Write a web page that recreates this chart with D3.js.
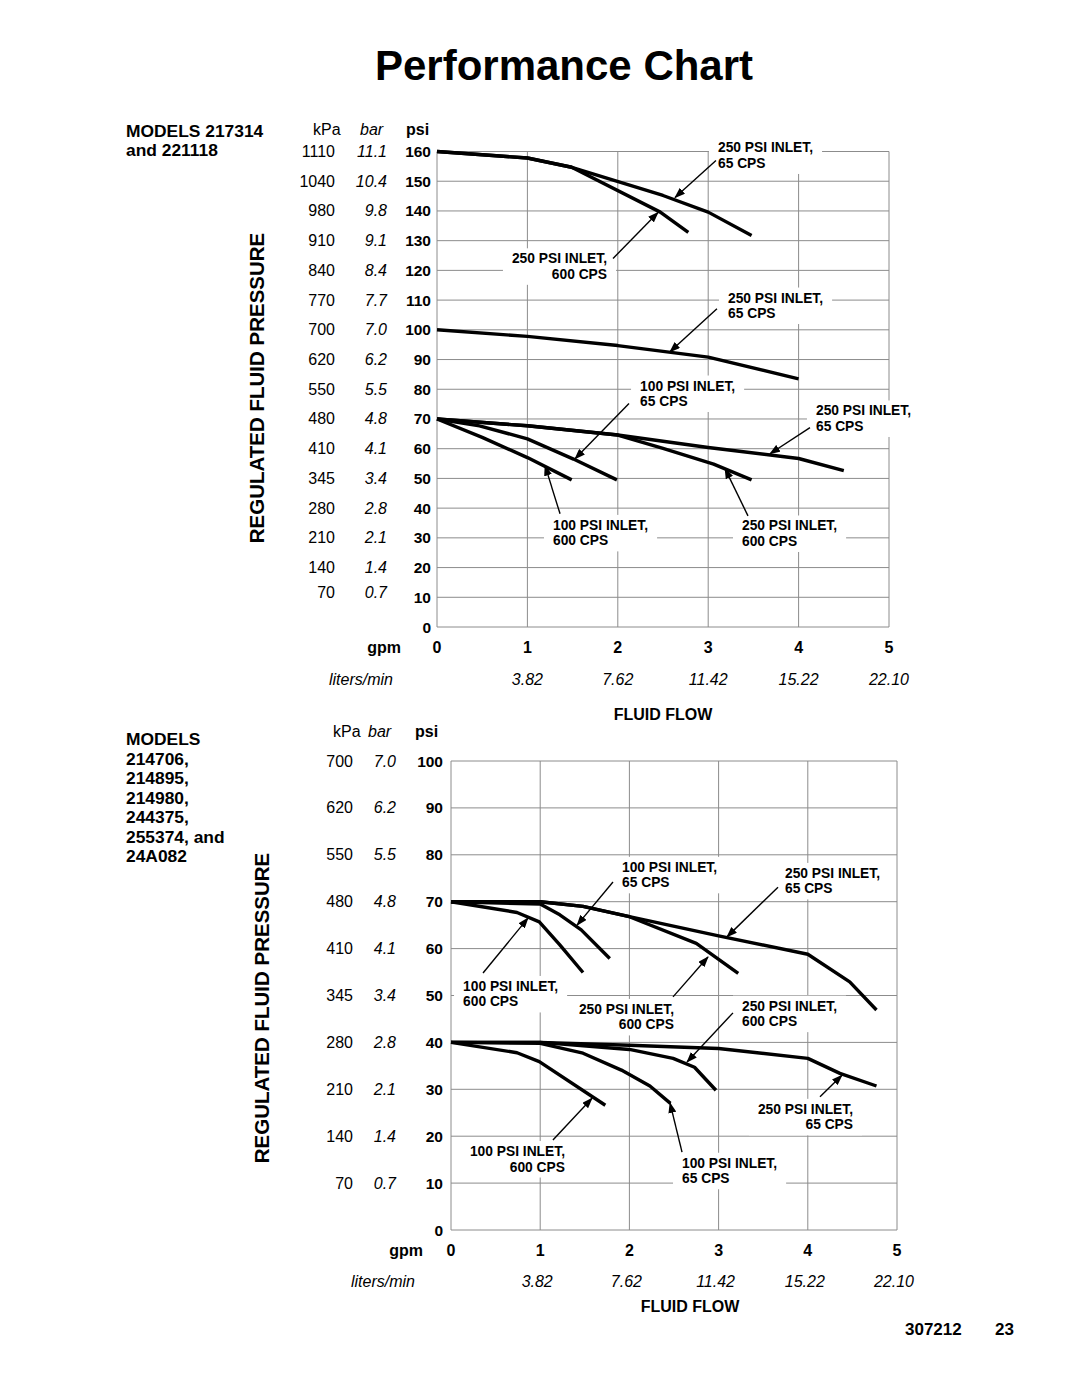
<!DOCTYPE html>
<html><head><meta charset="utf-8">
<script src="https://cdn.jsdelivr.net/npm/d3@7"></script>
<style>
body{margin:0;background:#fff}
svg{display:block}
text{font-family:"Liberation Sans",Arial,Helvetica,sans-serif;fill:#000}
</style>
</head><body>
<svg id="c" width="1080" height="1397"></svg>
<script>
// ---------- DATA ----------
const gpmTicks = [0, 1, 2, 3, 4, 5];
const litersLabels = ["", "3.82", "7.62", "11.42", "15.22", "22.10"];

const topPsi = [160,150,140,130,120,110,100,90,80,70,60,50,40,30,20,10,0];
const topKpa = ["1110","1040","980","910","840","770","700","620","550","480","410","345","280","210","140","70",""];
const topBar = ["11.1","10.4","9.8","9.1","8.4","7.7","7.0","6.2","5.5","4.8","4.1","3.4","2.8","2.1","1.4","0.7",""];

const botPsi = [100,90,80,70,60,50,40,30,20,10,0];
const botKpa = ["700","620","550","480","410","345","280","210","140","70",""];
const botBar = ["7.0","6.2","5.5","4.8","4.1","3.4","2.8","2.1","1.4","0.7",""];

const topModels = ["MODELS 217314", "and 221118"];
const botModels = ["MODELS", "214706,", "214895,", "214980,", "244375,", "255374, and", "24A082"];

// top chart series [gpm, psi]
const top_250_65_high  = [[0,160],[1,157.8],[1.49,154.7],[2.5,145.2],[3,139.6],[3.48,131.7]];
const top_250_600_high = [[0,160],[1,157.8],[1.49,154.7],[2.47,139.6],[2.78,132.8]];
const top_250_65_mid   = [[0,100],[1,97.8],[2,94.7],[3,90.8],[4,83.5]];
const top_250_65_low   = [[0,70],[1,67.7],[2,64.6],[3,60.4],[4,56.7],[4.5,52.6]];
const top_250_600_low  = [[0,70],[1,67.7],[2,64.6],[2.5,60.1],[3.06,54.8],[3.48,49.5]];
const top_100_65       = [[0,70],[0.47,67.7],[1,63.3],[1.51,56.5],[1.99,49.5]];
const top_100_600      = [[0,70],[0.5,63.8],[1,57],[1.49,49.5]];

// bottom chart series
const bot_250_65_high  = [[0,70],[1,70],[1.48,69],[2,66.8],[3,62.7],[4,58.8],[4.47,52.9],[4.77,46.9]];
const bot_250_600_high = [[0,70],[1,70],[1.48,69],[2,66.8],[2.75,61.1],[3.22,54.7]];
const bot_100_65_high  = [[0,70],[1,69.5],[1.22,67.2],[1.46,64],[1.78,57.9]];
const bot_100_600_high = [[0,70],[0.74,67.7],[0.99,65.7],[1.22,60.8],[1.48,54.9]];
const bot_250_65_low   = [[0,40],[1,40],[2,39.4],[3,38.7],[4,36.6],[4.36,33.4],[4.77,30.7]];
const bot_250_600_low  = [[0,40],[1,40],[2,38.5],[2.49,36.6],[2.73,34.7],[2.97,29.8]];
const bot_100_65_low   = [[0,40],[1,39.8],[1.48,37.7],[1.91,34.1],[2.23,30.7],[2.46,27]];
const bot_100_600_low  = [[0,40],[0.74,37.8],[0.99,35.9],[1.73,26.6]];

// annotations: label lines, label anchor (gpm, psi), arrow from/to (gpm, psi)
const topNotes = [
  {lines:["250 PSI INLET,","65 CPS"],  at:[3.108,161.3], anchor:"start", from:[3.086,157.0], to:[2.633,144.5]},
  {lines:["250 PSI INLET,","600 CPS"], at:[1.881,124.0], anchor:"end",   from:[1.947,124.0], to:[2.445,139.5]},
  {lines:["250 PSI INLET,","65 CPS"],  at:[3.219,110.8], anchor:"start", from:[3.097,107.1], to:[2.577,92.6]},
  {lines:["100 PSI INLET,","65 CPS"],  at:[2.246,81.2],  anchor:"start", from:[2.124,75.2],  to:[1.527,56.6]},
  {lines:["250 PSI INLET,","65 CPS"],  at:[4.192,72.8],  anchor:"start", from:[4.126,67.1],  to:[3.684,58.3]},
  {lines:["100 PSI INLET,","600 CPS"], at:[1.283,34.3],  anchor:"start", from:[1.361,38.1],  to:[1.195,54.3]},
  {lines:["250 PSI INLET,","600 CPS"], at:[3.374,34.1],  anchor:"start", from:[3.440,37.4],  to:[3.186,53.3]}
];
const botNotes = [
  {lines:["100 PSI INLET,","65 CPS"],  at:[1.917,77.4], anchor:"start", from:[1.816,74.2], to:[1.413,65.0]},
  {lines:["250 PSI INLET,","65 CPS"],  at:[3.744,76.1], anchor:"start", from:[3.666,73.1], to:[3.094,62.5]},
  {lines:["100 PSI INLET,","600 CPS"], at:[0.135,52.0], anchor:"start", from:[0.359,54.8], to:[0.863,66.5]},
  {lines:["250 PSI INLET,","600 CPS"], at:[2.500,47.1], anchor:"end",   from:[2.489,49.7], to:[2.881,58.2]},
  {lines:["250 PSI INLET,","600 CPS"], at:[3.262,47.8], anchor:"start", from:[3.161,46.3], to:[2.646,35.8]},
  {lines:["250 PSI INLET,","65 CPS"],  at:[4.507,25.8], anchor:"end",   from:[4.137,28.4], to:[4.383,33.0]},
  {lines:["100 PSI INLET,","600 CPS"], at:[1.278,16.8], anchor:"end",   from:[1.143,19.2], to:[1.581,28.1]},
  {lines:["100 PSI INLET,","65 CPS"],  at:[2.590,14.3], anchor:"start", from:[2.590,16.6], to:[2.455,27.1]}
];

// ---------- DRAW ----------
const svg = d3.select("#c");
svg.append("defs").append("marker")
  .attr("id","ah").attr("markerUnits","userSpaceOnUse")
  .attr("markerWidth",11).attr("markerHeight",8)
  .attr("refX",10).attr("refY",4).attr("orient","auto")
  .append("path").attr("d","M0,0 L11,4 L0,8 Z").attr("fill","#000");

svg.append("text").attr("x",564).attr("y",65)
  .attr("text-anchor","middle").attr("dominant-baseline","central")
  .style("font-size","42px").style("font-weight","bold").text("Performance Chart");

function drawChart(cfg){
  const x = d3.scaleLinear().domain([0,5]).range(cfg.xr);
  const y = d3.scaleLinear().domain([0,cfg.maxPsi]).range(cfg.yr);
  const g = svg.append("g");

  // grid
  g.selectAll(".vg").data(gpmTicks).enter().append("line")
    .attr("x1",d=>x(d)).attr("x2",d=>x(d)).attr("y1",y(0)).attr("y2",y(cfg.maxPsi))
    .attr("stroke","#8c8c8c").attr("stroke-width",1);
  g.selectAll(".hg").data(cfg.psi).enter().append("line")
    .attr("x1",x(0)).attr("x2",x(5)).attr("y1",d=>y(d)).attr("y2",d=>y(d))
    .attr("stroke","#8c8c8c").attr("stroke-width",1);

  // y tick labels
  const yl = g.append("g").attr("dominant-baseline","central");
  cfg.psi.forEach((p,i)=>{
    yl.append("text").attr("x",cfg.psiX).attr("y",y(p)).attr("text-anchor","end")
      .style("font-size","15.5px").style("font-weight","bold").text(p);
    if(cfg.kpa[i]) yl.append("text").attr("x",cfg.kpaX).attr("y",y(p)+(cfg.kOff&&p===10?cfg.kOff:0)).attr("text-anchor","end")
      .style("font-size","16px").text(cfg.kpa[i]);
    if(cfg.bar[i]) yl.append("text").attr("x",cfg.barX).attr("y",y(p)+(cfg.kOff&&p===10?cfg.kOff:0)).attr("text-anchor","end")
      .style("font-size","16px").style("font-style","italic").text(cfg.bar[i]);
  });
  // headers
  yl.append("text").attr("x",cfg.hK).attr("y",cfg.hY).style("font-size","16px").text("kPa");
  yl.append("text").attr("x",cfg.hB).attr("y",cfg.hY).style("font-size","16px").style("font-style","italic").text("bar");
  yl.append("text").attr("x",cfg.hP).attr("y",cfg.hY).style("font-size","16px").style("font-weight","bold").text("psi");

  // x labels
  const xl = g.append("g").attr("dominant-baseline","central");
  xl.append("text").attr("x",cfg.gpmX).attr("y",cfg.gY).attr("text-anchor","end")
    .style("font-size","16px").style("font-weight","bold").text("gpm");
  gpmTicks.forEach((t,i)=>{
    xl.append("text").attr("x",x(t)).attr("y",cfg.gY).attr("text-anchor","middle")
      .style("font-size","16px").style("font-weight","bold").text(t);
    if(litersLabels[i]) xl.append("text").attr("x",x(t)+cfg.lOff).attr("y",cfg.lY).attr("text-anchor","middle")
      .style("font-size","16px").style("font-style","italic").text(litersLabels[i]);
  });
  xl.append("text").attr("x",cfg.litX).attr("y",cfg.lY).attr("text-anchor","end")
    .style("font-size","16px").style("font-style","italic").text("liters/min");
  xl.append("text").attr("x",cfg.ffX).attr("y",cfg.ffY).attr("text-anchor","middle")
    .style("font-size","16px").style("font-weight","bold").text("FLUID FLOW");

  // y title
  g.append("text").attr("transform",`translate(${cfg.ytX},${cfg.ytY}) rotate(-90)`)
    .attr("text-anchor","middle").attr("dominant-baseline","central")
    .style("font-size","20.5px").style("font-weight","bold").text("REGULATED FLUID PRESSURE");

  // models
  cfg.models.forEach((m,i)=>{
    g.append("text").attr("x",126).attr("y",cfg.mY + i*cfg.mStep).attr("dominant-baseline","central")
      .style("font-size","17.4px").style("font-weight","bold").text(m);
  });

  // annotation labels with white boxes
  const ng = g.append("g");
  cfg.notes.forEach(n=>{
    const grp = ng.append("g");
    const t = grp.append("text").attr("text-anchor",n.anchor)
      .style("font-size","13.8px").style("font-weight","bold");
    n.lines.forEach((l,k)=>{
      t.append("tspan").attr("x",x(n.at[0])).attr("y",y(n.at[1]) + k*15.5).attr("dy","0.35em").text(l);
    });
    const bb = t.node().getBBox();
    grp.insert("rect","text").attr("x",bb.x-9).attr("y",bb.y-3).attr("width",bb.width+18).attr("height",bb.height+6)
      .attr("fill","#fff");
  });

  // curves
  const line = d3.line().x(d=>x(d[0])).y(d=>y(d[1]));
  g.selectAll(".curve").data(cfg.series).enter().append("path")
    .attr("d",line).attr("fill","none").attr("stroke","#000")
    .attr("stroke-width",3.4).attr("stroke-linejoin","round").attr("stroke-linecap","butt");

  // arrows
  cfg.notes.forEach(n=>{
    g.append("line").attr("x1",x(n.from[0])).attr("y1",y(n.from[1]))
      .attr("x2",x(n.to[0])).attr("y2",y(n.to[1]))
      .attr("stroke","#000").attr("stroke-width",1.4).attr("marker-end","url(#ah)");
  });
}

drawChart({
  xr:[437,889], yr:[627,151.5], maxPsi:160, psi:topPsi, kpa:topKpa, bar:topBar,
  psiX:431, barX:387, kpaX:335, kOff:-5, hK:313, hB:360, hP:406, hY:129,
  gpmX:401, gY:647, lY:679, lOff:0, litX:393, ffX:663, ffY:714,
  ytX:256, ytY:388, models:topModels, mY:131, mStep:19,
  notes:topNotes,
  series:[top_250_65_high, top_250_600_high, top_250_65_mid, top_250_65_low, top_250_600_low, top_100_65, top_100_600]
});

drawChart({
  xr:[451,897], yr:[1230,761], maxPsi:100, psi:botPsi, kpa:botKpa, bar:botBar,
  psiX:443, barX:396, kpaX:353, kOff:0, hK:333, hB:368, hP:415, hY:731,
  gpmX:423, gY:1250, lY:1281, lOff:-3, litX:415, ffX:690, ffY:1306,
  ytX:261, ytY:1008, models:botModels, mY:739, mStep:19.5,
  notes:botNotes,
  series:[bot_250_65_high, bot_250_600_high, bot_100_65_high, bot_100_600_high, bot_250_65_low, bot_250_600_low, bot_100_65_low, bot_100_600_low]
});

svg.append("text").attr("x",905).attr("y",1329).attr("dominant-baseline","central")
  .style("font-size","17px").style("font-weight","bold").text("307212");
svg.append("text").attr("x",995).attr("y",1329).attr("dominant-baseline","central")
  .style("font-size","17px").style("font-weight","bold").text("23");
</script>
</body></html>
